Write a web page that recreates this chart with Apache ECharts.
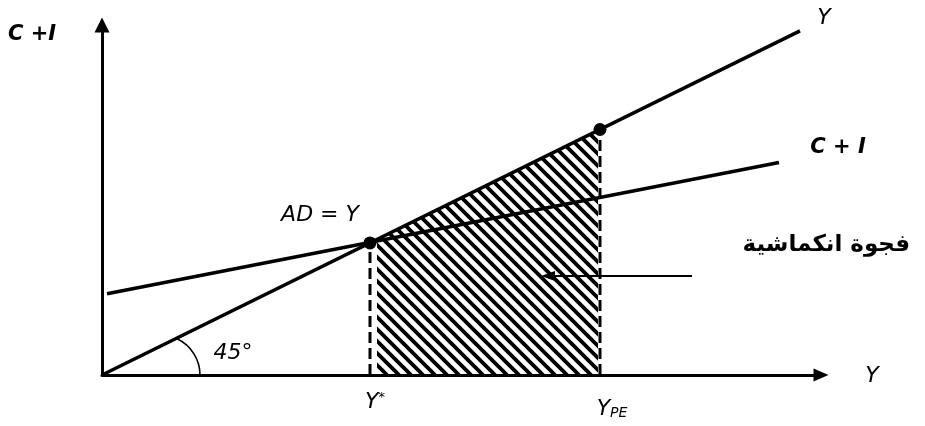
<!DOCTYPE html>
<html>
<head>
<meta charset="utf-8">
<script src="https://cdn.jsdelivr.net/npm/echarts@6/dist/echarts.min.js"></script>
<style>
html,body{margin:0;padding:0;background:#fff;}
#main{width:925px;height:426px;}
</style>
</head>
<body>
<div id="main"></div>
<script>
// axis ranges (income Y on x, spending C+I on y)
var xMax = 719, yMax = 710;
// 45 degree line Y = AD
var line45 = [[0, 0], [698, 698]];
// C + I line
var lineCI = [[5, 165], [677, 431]];
// equilibrium Y* and potential Y_PE on the 45 degree line
var eqPoints = [[268, 268], [498, 498]];
// deflationary gap (hatched) between Y* and Y_PE
var gapArea = [[275, 275], [496, 496]];
// arrow pointing into the gap
var arrowFrom = [590, 201], arrowTo = [446, 201];

var FONT = 'DejaVu Sans';
var myChart = echarts.init(document.getElementById('main'));

function hatchPattern(){
	var c = document.createElement('canvas');
	c.width = 12; c.height = 12;
	var ctx = c.getContext('2d');
	ctx.strokeStyle = '#000';
	ctx.lineWidth = 3.8;
	ctx.beginPath();
	for (var o = -12; o <= 12; o += 12) {
		ctx.moveTo(o - 3, -3);
		ctx.lineTo(o + 15, 15);
	}
	ctx.stroke();
	return c;
}

var dashY = [];
for (var i = 0; i < eqPoints.length; i++) {
	dashY.push([[eqPoints[i][0], 0], eqPoints[i]]);
}

var option = {
	animation: false,
	backgroundColor: '#fff',
	grid: { left: 102, right: 104, top: 25, bottom: 51 },
	xAxis: {
		type: 'value', min: 0, max: xMax,
		axisLine: { show: true, symbol: ['none', 'triangle'], symbolSize: [13, 15], lineStyle: { color: '#000', width: 3 } },
		axisTick: { show: false }, axisLabel: { show: false }, splitLine: { show: false }
	},
	yAxis: {
		type: 'value', min: 0, max: yMax,
		axisLine: { show: true, symbol: ['none', 'triangle'], symbolSize: [15, 15], lineStyle: { color: '#000', width: 3 } },
		axisTick: { show: false }, axisLabel: { show: false }, splitLine: { show: false }
	},
	series: [
		{
			type: 'line', data: gapArea, showSymbol: false, silent: true,
			lineStyle: { width: 0 },
			areaStyle: { color: { image: hatchPattern(), repeat: 'repeat' }, opacity: 1 },
			z: 1
		},
		{
			type: 'line', data: dashY[0], showSymbol: false,
			lineStyle: { color: '#000', width: 3, type: [11, 5] }, z: 2
		},
		{
			type: 'line', data: dashY[1], showSymbol: false,
			lineStyle: { color: '#000', width: 3, type: [11, 5] }, z: 2
		},
		{
			type: 'line', data: line45, showSymbol: false,
			lineStyle: { color: '#000', width: 3.5 }, z: 3
		},
		{
			type: 'line', data: lineCI, showSymbol: false,
			lineStyle: { color: '#000', width: 3.5 }, z: 3,
			markLine: {
				silent: true, symbol: ['none', 'triangle'], symbolSize: [10, 14],
				label: { show: false },
				lineStyle: { color: '#000', width: 2, type: 'solid', opacity: 1 },
				data: [[{ coord: arrowFrom }, { coord: arrowTo }]]
			}
		},
		{
			type: 'scatter', data: eqPoints, symbolSize: 13,
			itemStyle: { color: '#000', opacity: 1 }, z: 4
		}
	]
};
myChart.setOption(option);

function px(p){ return myChart.convertToPixel({ gridIndex: 0 }, p); }
var o0 = px([0, 0]);
var pStar = px(eqPoints[0]);
var pPE = px(eqPoints[1]);
var pEnd45 = px(line45[1]);
var pEndCI = px(lineCI[1]);

function txt(x, y, text, extra){
	var s = { text: text, fill: '#000', font: 'italic 22px "' + FONT + '"', textAlign: 'center', textVerticalAlign: 'middle' };
	for (var k in extra) s[k] = extra[k];
	return { type: 'text', x: x, y: y, style: s, z: 10 };
}

myChart.setOption({
	graphic: [
		txt(32, 35, 'C +I', { font: 'italic bold 21px "' + FONT + '"' }),
		txt(pEnd45[0] + 24, pEnd45[1] - 13, 'Y'),
		txt(pEndCI[0] + 59, pEndCI[1] - 15, 'C + I', { font: 'italic bold 21px "' + FONT + '"' }),
		txt(pStar[0] - 50, pStar[1] - 28, 'AD = Y'),
		txt(910, 245, 'فجوة انكماشية', { font: 'bold 23px "' + FONT + '"', textAlign: 'right' }),
		txt(o0[0] + 131, o0[1] - 22, '45°'),
		txt(o0[0] + 770, o0[1] + 1, 'Y'),
		{
			type: 'text', x: pStar[0] + 5, y: o0[1] + 27, z: 10,
			style: {
				text: '{m|Y}{s|*}', fill: '#000', textAlign: 'center', textVerticalAlign: 'middle',
				rich: {
					m: { fontFamily: FONT, fontStyle: 'italic', fontSize: 22, fill: '#000' },
					s: { fontFamily: FONT, fontSize: 13, fill: '#000', verticalAlign: 'top', padding: [0, 0, 9, 0] }
				}
			}
		},
		{
			type: 'text', x: pPE[0] + 12, y: o0[1] + 34, z: 10,
			style: {
				text: '{m|Y}{s|PE}', fill: '#000', textAlign: 'center', textVerticalAlign: 'middle',
				rich: {
					m: { fontFamily: FONT, fontStyle: 'italic', fontSize: 22, fill: '#000' },
					s: { fontFamily: FONT, fontStyle: 'italic', fontSize: 14, fill: '#000', verticalAlign: 'bottom', padding: [7, 0, 0, 0] }
				}
			}
		},
		{
			type: 'arc', z: 10,
			shape: { cx: o0[0] + 58, cy: o0[1], r: 40, startAngle: -1.13, endAngle: 0, clockwise: true },
			style: { stroke: '#000', lineWidth: 1.6, fill: null }
		}
	]
});
</script>
</body>
</html>
